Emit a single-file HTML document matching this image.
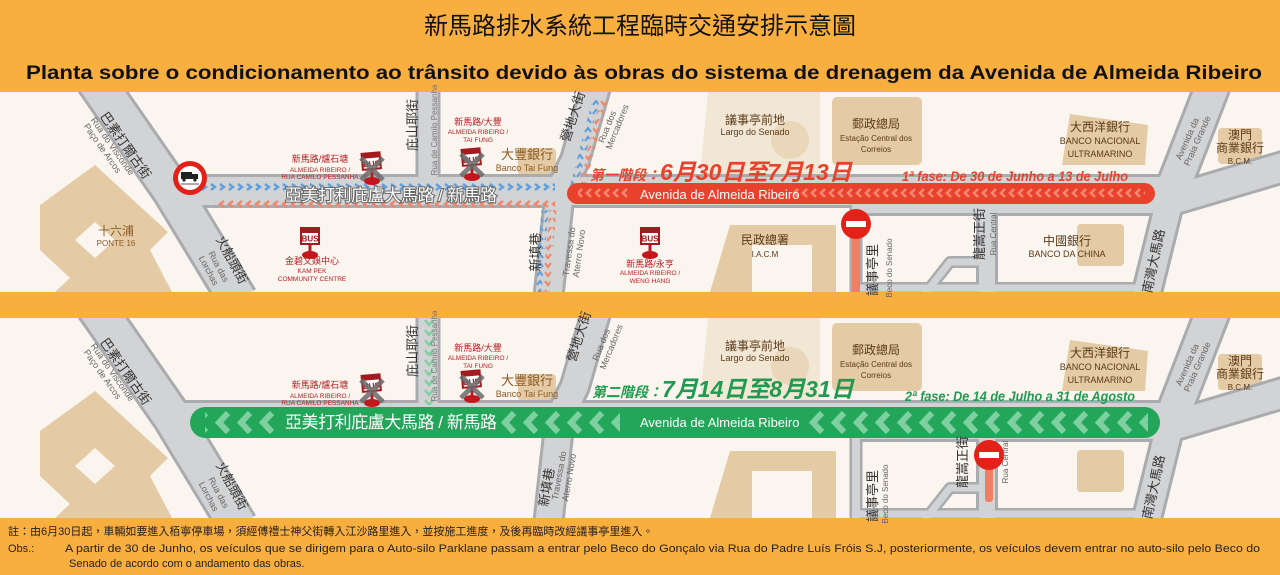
<!DOCTYPE html>
<html><head><meta charset="utf-8"><style>
html,body{margin:0;padding:0;background:#f9ae40;}
svg{display:block}
text{font-family:"Liberation Sans","Noto Sans CJK TC",sans-serif;}
</style></head><body>
<svg width="1280" height="575" viewBox="0 0 1280 575" xmlns="http://www.w3.org/2000/svg">
<defs>
<pattern id="pb" width="9" height="8" patternUnits="userSpaceOnUse" x="200" y="183"><path d="M2 1 L6 4 L2 7" stroke="#5fa0dc" stroke-width="2.4" fill="none"/></pattern>
<pattern id="po" width="9" height="8" patternUnits="userSpaceOnUse" x="200" y="200"><path d="M6 1 L2 4 L6 7" stroke="#f0876a" stroke-width="2.4" fill="none"/></pattern>
<pattern id="pr" width="9" height="20" patternUnits="userSpaceOnUse" x="567" y="183"><path d="M6 6 L2 10 L6 14" stroke="#f3876f" stroke-width="2.6" fill="none"/></pattern>
<pattern id="pg" width="22" height="31" patternUnits="userSpaceOnUse" x="190" y="407"><path d="M16 6 L7 15.5 L16 25" stroke="#7fd0a0" stroke-width="6" fill="none"/></pattern>
<pattern id="pgv" width="12" height="10" patternUnits="userSpaceOnUse" x="423" y="318"><path d="M2 2 L6 7 L10 2" stroke="#7fd0a0" stroke-width="2.4" fill="none"/></pattern>
<pattern id="pvb" width="8" height="9" patternUnits="userSpaceOnUse"><path d="M1 6 L4 2 L7 6" stroke="#5fa0dc" stroke-width="2.2" fill="none"/></pattern>
<pattern id="pvo" width="8" height="9" patternUnits="userSpaceOnUse"><path d="M1 2 L4 6 L7 2" stroke="#f0876a" stroke-width="2.2" fill="none"/></pattern>
<clipPath id="c1"><rect x="0" y="92" width="1280" height="200"/></clipPath>
<g id="base">
<rect x="0" y="92" width="1280" height="200" fill="#faf5ee"/>
<path d="M708 92 L820 92 L820 175 L700 175 Z" fill="#f2e6d4"/>
<circle cx="790" cy="140" r="19" fill="#ead7ba"/>
<path d="M40 205 L95 165 L168 232 L150 250 L172 292 L55 292 L70 278 L40 250 Z" fill="#e4cba6"/>
<path d="M75 240 L95 222 L115 240 L95 258 Z" fill="#faf5ee"/>
<rect x="832" y="97" width="90" height="68" rx="5" fill="#e4cba6"/>
<path d="M1070 114 L1148 125 L1145 165 L1062 165 Z" fill="#e4cba6"/>
<rect x="1218" y="128" width="44" height="36" rx="4" fill="#e4cba6"/>
<path d="M730 225 L836 225 L836 292 L812 292 L812 245 L752 245 L752 292 L710 292 Z" fill="#e4cba6"/>
<rect x="1077" y="224" width="47" height="42" rx="4" fill="#e4cba6"/>
<rect x="518" y="148" width="38" height="27" rx="4" fill="#e4cba6"/>
<g fill="none" stroke="#a9abae" stroke-linejoin="round">
<path d="M95 80 L172 191 L238 300" stroke-width="42"/>
<path d="M172 191 L1180 191" stroke-width="34"/>
<path d="M860 196 L1180 196" stroke-width="40"/>
<path d="M428 80 L428 191" stroke-width="25"/>
<path d="M598 80 L575 160 L560 191 L548 300" stroke-width="32"/>
<path d="M856 191 L856 300" stroke-width="13"/>
<path d="M987 191 L987 300" stroke-width="22"/>
<path d="M860 288 L1150 288" stroke-width="12"/>
<path d="M920 300 L950 262 L987 262" stroke-width="12"/>
<path d="M1172 191 L1145 300" stroke-width="32"/>
<path d="M1172 191 L1215 80" stroke-width="38"/>
<path d="M1172 200 L1290 165" stroke-width="34"/>
</g>
<g fill="none" stroke="#d2d3d5" stroke-linejoin="round">
<path d="M95 80 L172 191 L238 300" stroke-width="36"/>
<path d="M172 191 L1180 191" stroke-width="28"/>
<path d="M860 196 L1180 196" stroke-width="34"/>
<path d="M428 80 L428 191" stroke-width="19"/>
<path d="M598 80 L575 160 L560 191 L548 300" stroke-width="26"/>
<path d="M856 191 L856 300" stroke-width="8"/>
<path d="M987 191 L987 300" stroke-width="16"/>
<path d="M860 288 L1150 288" stroke-width="7"/>
<path d="M920 300 L950 262 L987 262" stroke-width="7"/>
<path d="M1172 191 L1145 300" stroke-width="26"/>
<path d="M1172 191 L1215 80" stroke-width="32"/>
<path d="M1172 200 L1290 165" stroke-width="28"/>
</g>
</g>
</defs>

<text x="640" y="34" font-size="24" text-anchor="middle" fill="#111">新馬路排水系統工程臨時交通安排示意圖</text>
<text x="26" y="79" font-size="19" font-weight="bold" fill="#111" textLength="1236" lengthAdjust="spacingAndGlyphs">Planta sobre o condicionamento ao trânsito devido às obras do sistema de drenagem da Avenida de Almeida Ribeiro</text>

<g clip-path="url(#c1)"><use href="#base"/></g>
<rect x="200" y="183" width="355" height="8" fill="url(#pb)"/>
<rect x="215" y="200" width="340" height="8" fill="url(#po)"/>
<path d="M596 100 L570 200" stroke="url(#pvb)" stroke-width="7"/>
<path d="M604 100 L578 200" stroke="url(#pvo)" stroke-width="7"/>
<path d="M545 210 L538 292" stroke="url(#pvb)" stroke-width="7"/>
<path d="M553 210 L546 292" stroke="url(#pvo)" stroke-width="7"/>
<rect x="567" y="183" width="588" height="21" rx="10.5" fill="#e8412c"/>
<rect x="790" y="183" width="355" height="21" fill="url(#pr)"/>
<rect x="578" y="183" width="52" height="21" fill="url(#pr)"/>
<text x="640" y="199" font-size="13" fill="#fff">Avenida de Almeida Ribeiro</text>
<text x="590" y="180" font-size="14" font-weight="bold" font-style="italic" fill="#e8412c">第一階段：<tspan font-size="23">6月30日至7月13日</tspan></text>
<text x="902" y="181" font-size="14" font-weight="bold" font-style="italic" fill="#e8412c" textLength="226" lengthAdjust="spacingAndGlyphs">1ª fase: De 30 de Junho a 13 de Julho</text>
<text x="285" y="201" font-size="17" fill="#fff" stroke="#666" stroke-width="2" paint-order="stroke" textLength="212">亞美打利庇盧大馬路 / 新馬路</text>
<circle cx="190" cy="178" r="17" fill="#e32119"/><circle cx="190" cy="178" r="12" fill="#fff"/>
<rect x="181" y="172" width="11" height="7" fill="#222"/><rect x="192" y="174" width="6" height="5" fill="#222"/>
<circle cx="184" cy="180" r="1.6" fill="#222"/><circle cx="195" cy="180" r="1.6" fill="#222"/>
<line x1="181" y1="184" x2="199" y2="184" stroke="#222" stroke-width="0.8"/>
<rect x="852" y="232" width="8" height="60" fill="#f07e62"/>
<circle cx="856" cy="224" r="15" fill="#e32119"/><rect x="846" y="221" width="20" height="6" fill="#fff"/>

<g>
<g transform="translate(372,170)"><rect x="-1.5" y="0" width="3" height="10" fill="#b01e23"/><ellipse cx="0" cy="11" rx="8" ry="4" fill="#c4161c"/><rect x="-10" y="-18" width="20" height="18" fill="#a31a1f" transform="rotate(-5)"/><rect x="-8" y="-12" width="16" height="10" fill="#fff" transform="rotate(-5)"/><text x="0" y="-3.5" font-size="8" font-weight="bold" text-anchor="middle" fill="#a31a1f" transform="rotate(-5)">BUS</text>
<path d="M-11 -12 L11 10 M11 -12 L-11 10" stroke="#6b6b6b" stroke-width="5" opacity="0.85"/></g>
<g transform="translate(472,166)"><rect x="-1.5" y="0" width="3" height="10" fill="#b01e23"/><ellipse cx="0" cy="11" rx="8" ry="4" fill="#c4161c"/><rect x="-10" y="-18" width="20" height="18" fill="#a31a1f" transform="rotate(-5)"/><rect x="-8" y="-12" width="16" height="10" fill="#fff" transform="rotate(-5)"/><text x="0" y="-3.5" font-size="8" font-weight="bold" text-anchor="middle" fill="#a31a1f" transform="rotate(-5)">BUS</text>
<path d="M-11 -12 L11 10 M11 -12 L-11 10" stroke="#6b6b6b" stroke-width="5" opacity="0.85"/></g>
</g>
<g transform="translate(310,245)"><rect x="-1.5" y="0" width="3" height="8" fill="#b01e23"/><ellipse cx="0" cy="10" rx="8" ry="4" fill="#c4161c"/><rect x="-10" y="-18" width="20" height="18" fill="#a31a1f"/><rect x="-8" y="-12" width="16" height="10" fill="#fff"/><text x="0" y="-3.5" font-size="8" font-weight="bold" text-anchor="middle" fill="#a31a1f">BUS</text></g>
<g transform="translate(650,245)"><rect x="-1.5" y="0" width="3" height="8" fill="#b01e23"/><ellipse cx="0" cy="10" rx="8" ry="4" fill="#c4161c"/><rect x="-10" y="-18" width="20" height="18" fill="#a31a1f"/><rect x="-8" y="-12" width="16" height="10" fill="#fff"/><text x="0" y="-3.5" font-size="8" font-weight="bold" text-anchor="middle" fill="#a31a1f">BUS</text></g>

<g fill="#333">
<text transform="translate(122,148) rotate(55)" font-size="13" text-anchor="middle">巴素打爾古街</text>
<text transform="translate(110,148) rotate(55)" font-size="9" fill="#666" text-anchor="middle">Rua do Visconde</text>
<text transform="translate(100,150) rotate(55)" font-size="9" fill="#666" text-anchor="middle">Paço de Arcos</text>
<text transform="translate(228,262) rotate(62)" font-size="13" text-anchor="middle">火船頭街</text>
<text transform="translate(216,268) rotate(62)" font-size="9" fill="#666" text-anchor="middle">Rua das</text>
<text transform="translate(206,272) rotate(62)" font-size="9" fill="#666" text-anchor="middle">Lorchas</text>
<text transform="translate(417,125) rotate(-90)" font-size="13" text-anchor="middle">庇山耶街</text>
<text transform="translate(437,130) rotate(-90)" font-size="8" fill="#777" text-anchor="middle">Rua de Camilo Pessanha</text>
<text transform="translate(577,118) rotate(-72)" font-size="13" text-anchor="middle">營地大街</text>
<text transform="translate(610,128) rotate(-68)" font-size="9" fill="#666" text-anchor="middle">Rua dos</text>
<text transform="translate(620,128) rotate(-68)" font-size="9" fill="#666" text-anchor="middle">Mercadores</text>
<text transform="translate(540,252) rotate(-90)" font-size="13" text-anchor="middle">新填巷</text>
<text transform="translate(572,252) rotate(-82)" font-size="9" fill="#666" text-anchor="middle">Travessa do</text>
<text transform="translate(582,254) rotate(-82)" font-size="9" fill="#666" text-anchor="middle">Aterro Novo</text>
<text transform="translate(877,270) rotate(-90)" font-size="13" text-anchor="middle">議事亭里</text>
<text transform="translate(892,268) rotate(-90)" font-size="8" fill="#666" text-anchor="middle">Beco do Senado</text>
<text transform="translate(984,234) rotate(-90)" font-size="13" text-anchor="middle">龍嵩正街</text>
<text transform="translate(996,234) rotate(-90)" font-size="8" fill="#666" text-anchor="middle">Rua Central</text>
<text transform="translate(1158,262) rotate(-78)" font-size="13" text-anchor="middle">南灣大馬路</text>
<text transform="translate(1190,140) rotate(-66)" font-size="9" fill="#666" text-anchor="middle">Avenida da</text>
<text transform="translate(1200,142) rotate(-66)" font-size="9" fill="#666" text-anchor="middle">Praia Grande</text>
</g>
<g text-anchor="middle">
<text x="116" y="235" font-size="12" fill="#8b5a22">十六浦</text><text x="116" y="246" font-size="8" fill="#8b5a22">PONTE 16</text>
<text x="320" y="162" font-size="9" fill="#b81e23">新馬路/爐石塘</text><text x="320" y="172" font-size="6.5" fill="#b81e23">ALMEIDA RIBEIRO /</text><text x="320" y="179" font-size="6.5" fill="#b81e23">RUA CAMILO PESSANHA</text>
<text x="478" y="125" font-size="9" fill="#b81e23">新馬路/大豐</text><text x="478" y="134" font-size="6.5" fill="#b81e23">ALMEIDA RIBEIRO /</text><text x="478" y="142" font-size="6.5" fill="#b81e23">TAI FUNG</text>
<text x="527" y="159" font-size="13" fill="#8b5a22">大豐銀行</text><text x="527" y="171" font-size="9" fill="#8b5a22">Banco Tai Fung</text>
<text x="312" y="264" font-size="9" fill="#b81e23">金碧文娛中心</text><text x="312" y="273" font-size="6.5" fill="#b81e23">KAM PEK</text><text x="312" y="281" font-size="6.5" fill="#b81e23">COMMUNITY CENTRE</text>
<text x="650" y="267" font-size="9" fill="#b81e23">新馬路/永亨</text><text x="650" y="275" font-size="6.5" fill="#b81e23">ALMEIDA RIBEIRO /</text><text x="650" y="283" font-size="6.5" fill="#b81e23">WENG HANG</text>
<text x="755" y="124" font-size="12" fill="#5a3a1a">議事亭前地</text><text x="755" y="135" font-size="9" fill="#5a3a1a">Largo do Senado</text>
<text x="876" y="128" font-size="12" fill="#5a3a1a">郵政總局</text><text x="876" y="141" font-size="8" fill="#5a3a1a">Estação Central dos</text><text x="876" y="152" font-size="8" fill="#5a3a1a">Correios</text>
<text x="1100" y="131" font-size="12" fill="#5a3a1a">大西洋銀行</text><text x="1100" y="144" font-size="9" fill="#5a3a1a">BANCO NACIONAL</text><text x="1100" y="157" font-size="9" fill="#5a3a1a">ULTRAMARINO</text>
<text x="1240" y="139" font-size="12" fill="#5a3a1a">澳門</text><text x="1240" y="152" font-size="12" fill="#5a3a1a">商業銀行</text><text x="1240" y="164" font-size="8" fill="#5a3a1a">B.C.M.</text>
<text x="765" y="244" font-size="12" fill="#5a3a1a">民政總署</text><text x="765" y="257" font-size="8" fill="#5a3a1a">I.A.C.M</text>
<text x="1067" y="245" font-size="12" fill="#5a3a1a">中國銀行</text><text x="1067" y="257" font-size="9" fill="#5a3a1a">BANCO DA CHINA</text>
</g>

<g clip-path="url(#c1)" transform="translate(0,226)"><use href="#base"/></g>
<rect x="423" y="318" width="12" height="89" fill="#d2d3d5"/>
<rect x="423" y="320" width="12" height="85" fill="url(#pgv)"/>
<rect x="190" y="407" width="970" height="31" rx="15.5" fill="#23a55a"/>
<rect x="205" y="407" width="70" height="31" fill="url(#pg)"/>
<rect x="500" y="407" width="120" height="31" fill="url(#pg)"/>
<rect x="808" y="407" width="340" height="31" fill="url(#pg)"/>
<text x="285" y="428" font-size="17" fill="#fff" textLength="212">亞美打利庇盧大馬路 / 新馬路</text>
<text x="640" y="427" font-size="13" fill="#fff">Avenida de Almeida Ribeiro</text>
<text x="592" y="397" font-size="14" font-weight="bold" font-style="italic" fill="#1f9a50">第二階段：<tspan font-size="23">7月14日至8月31日</tspan></text>
<text x="905" y="401" font-size="14" font-weight="bold" font-style="italic" fill="#1f9a50" textLength="230" lengthAdjust="spacingAndGlyphs">2ª fase: De 14 de Julho a 31 de Agosto</text>
<rect x="985" y="462" width="8" height="40" fill="#f07e62" rx="3"/>
<circle cx="989" cy="455" r="15" fill="#e32119"/><rect x="979" y="452" width="20" height="6" fill="#fff"/>
<g transform="translate(0,222)">
<g transform="translate(372,170)"><rect x="-1.5" y="0" width="3" height="10" fill="#b01e23"/><ellipse cx="0" cy="11" rx="8" ry="4" fill="#c4161c"/><rect x="-10" y="-18" width="20" height="18" fill="#a31a1f" transform="rotate(-5)"/><rect x="-8" y="-12" width="16" height="10" fill="#fff" transform="rotate(-5)"/><text x="0" y="-3.5" font-size="8" font-weight="bold" text-anchor="middle" fill="#a31a1f" transform="rotate(-5)">BUS</text>
<path d="M-11 -12 L11 10 M11 -12 L-11 10" stroke="#6b6b6b" stroke-width="5" opacity="0.85"/></g>
<g transform="translate(472,166)"><rect x="-1.5" y="0" width="3" height="10" fill="#b01e23"/><ellipse cx="0" cy="11" rx="8" ry="4" fill="#c4161c"/><rect x="-10" y="-18" width="20" height="18" fill="#a31a1f" transform="rotate(-5)"/><rect x="-8" y="-12" width="16" height="10" fill="#fff" transform="rotate(-5)"/><text x="0" y="-3.5" font-size="8" font-weight="bold" text-anchor="middle" fill="#a31a1f" transform="rotate(-5)">BUS</text>
<path d="M-11 -12 L11 10 M11 -12 L-11 10" stroke="#6b6b6b" stroke-width="5" opacity="0.85"/></g>
</g>
<g fill="#333" transform="translate(0,226)">
<text transform="translate(122,148) rotate(55)" font-size="13" text-anchor="middle">巴素打爾古街</text>
<text transform="translate(110,148) rotate(55)" font-size="9" fill="#666" text-anchor="middle">Rua do Visconde</text>
<text transform="translate(100,150) rotate(55)" font-size="9" fill="#666" text-anchor="middle">Paço de Arcos</text>
<text transform="translate(228,262) rotate(62)" font-size="13" text-anchor="middle">火船頭街</text>
<text transform="translate(216,268) rotate(62)" font-size="9" fill="#666" text-anchor="middle">Rua das</text>
<text transform="translate(206,272) rotate(62)" font-size="9" fill="#666" text-anchor="middle">Lorchas</text>
<text transform="translate(417,125) rotate(-90)" font-size="13" text-anchor="middle">庇山耶街</text>
<text transform="translate(437,130) rotate(-90)" font-size="8" fill="#777" text-anchor="middle">Rua de Camilo Pessanha</text>
<text transform="translate(583,112) rotate(-72)" font-size="13" text-anchor="middle">營地大街</text>
<text transform="translate(604,120) rotate(-68)" font-size="9" fill="#666" text-anchor="middle">Rua dos</text>
<text transform="translate(614,122) rotate(-68)" font-size="9" fill="#666" text-anchor="middle">Mercadores</text>
<text transform="translate(551,262) rotate(-80)" font-size="13" text-anchor="middle">新填巷</text>
<text transform="translate(562,250) rotate(-80)" font-size="9" fill="#666" text-anchor="middle">Travessa do</text>
<text transform="translate(572,252) rotate(-80)" font-size="9" fill="#666" text-anchor="middle">Aterro Novo</text>
<text transform="translate(877,270) rotate(-90)" font-size="13" text-anchor="middle">議事亭里</text>
<text transform="translate(888,268) rotate(-90)" font-size="8" fill="#666" text-anchor="middle">Beco do Senado</text>
<text transform="translate(967,236) rotate(-90)" font-size="13" text-anchor="middle">龍嵩正街</text>
<text transform="translate(1008,236) rotate(-90)" font-size="8" fill="#666" text-anchor="middle">Rua Central</text>
<text transform="translate(1158,262) rotate(-78)" font-size="13" text-anchor="middle">南灣大馬路</text>
<text transform="translate(1190,140) rotate(-66)" font-size="9" fill="#666" text-anchor="middle">Avenida da</text>
<text transform="translate(1200,142) rotate(-66)" font-size="9" fill="#666" text-anchor="middle">Praia Grande</text>
</g>
<g text-anchor="middle" transform="translate(0,226)">
<text x="320" y="162" font-size="9" fill="#b81e23">新馬路/爐石塘</text><text x="320" y="172" font-size="6.5" fill="#b81e23">ALMEIDA RIBEIRO /</text><text x="320" y="179" font-size="6.5" fill="#b81e23">RUA CAMILO PESSANHA</text>
<text x="478" y="125" font-size="9" fill="#b81e23">新馬路/大豐</text><text x="478" y="134" font-size="6.5" fill="#b81e23">ALMEIDA RIBEIRO /</text><text x="478" y="142" font-size="6.5" fill="#b81e23">TAI FUNG</text>
<text x="527" y="159" font-size="13" fill="#8b5a22">大豐銀行</text><text x="527" y="171" font-size="9" fill="#8b5a22">Banco Tai Fung</text>
<text x="755" y="124" font-size="12" fill="#5a3a1a">議事亭前地</text><text x="755" y="135" font-size="9" fill="#5a3a1a">Largo do Senado</text>
<text x="876" y="128" font-size="12" fill="#5a3a1a">郵政總局</text><text x="876" y="141" font-size="8" fill="#5a3a1a">Estação Central dos</text><text x="876" y="152" font-size="8" fill="#5a3a1a">Correios</text>
<text x="1100" y="131" font-size="12" fill="#5a3a1a">大西洋銀行</text><text x="1100" y="144" font-size="9" fill="#5a3a1a">BANCO NACIONAL</text><text x="1100" y="157" font-size="9" fill="#5a3a1a">ULTRAMARINO</text>
<text x="1240" y="139" font-size="12" fill="#5a3a1a">澳門</text><text x="1240" y="152" font-size="12" fill="#5a3a1a">商業銀行</text><text x="1240" y="164" font-size="8" fill="#5a3a1a">B.C.M.</text>
</g>

<text x="8" y="535" font-size="11" fill="#222">註：由6月30日起，車輛如要進入栢寧停車場，須經傅禮士神父街轉入江沙路里進入，並按施工進度，及後再臨時改經議事亭里進入。</text>
<text x="8" y="552" font-size="11" fill="#222">Obs.:</text>
<text x="65" y="552" font-size="11" fill="#222" textLength="1195" lengthAdjust="spacingAndGlyphs">A partir de 30 de Junho, os veículos que se dirigem para o Auto-silo Parklane passam a entrar pelo Beco do Gonçalo via Rua do Padre Luís Fróis S.J, posteriormente, os veículos devem entrar no auto-silo pelo Beco do</text>
<text x="69" y="567" font-size="11" fill="#222">Senado de acordo com o andamento das obras.</text>
</svg>
</body></html>
